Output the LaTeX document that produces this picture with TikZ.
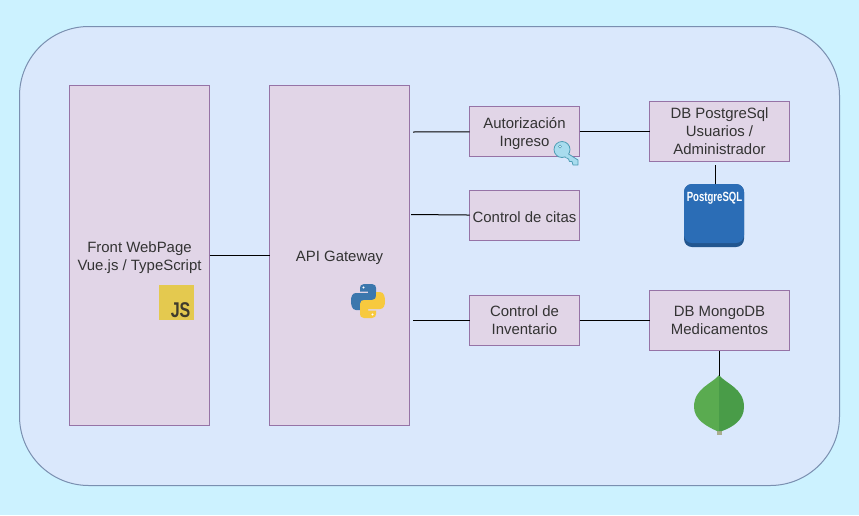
\documentclass[tikz,border=0pt]{standalone}
\usepackage{fontspec}
\setmainfont{Liberation Sans}
\definecolor{pagebg}{HTML}{CCF2FF}
\definecolor{panelfill}{HTML}{DAE8FC}
\definecolor{panelline}{HTML}{7A8FB0}
\definecolor{boxfill}{HTML}{E1D5E7}
\definecolor{boxline}{HTML}{9673A6}
\definecolor{jsfill}{HTML}{E4C94F}
\definecolor{jstext}{HTML}{3F3B2C}
\definecolor{pyblue}{HTML}{3B77AD}
\definecolor{pyyellow}{HTML}{F7C93E}
\definecolor{pgblue}{HTML}{2B6DB6}
\definecolor{pgdark}{HTML}{22568F}
\definecolor{leafleft}{HTML}{5AAB50}
\definecolor{leafright}{HTML}{499C48}
\definecolor{leafstem}{HTML}{A9AD8F}
\definecolor{keyfill}{HTML}{A8DCEE}
\definecolor{keyline}{HTML}{4F9DB5}
\tikzset{
	compbox/.style={draw=boxline,fill=boxfill,line width=0.75pt,outer sep=0pt,inner sep=0pt,align=center,font=\fontsize{11.2}{13.5}\selectfont,text=black!80,execute at begin node={\rule{0pt}{#1}}},
	compbox/.default=11.5pt,
	link/.style={line width=0.75pt,black}
}
\begin{document}
\begin{tikzpicture}[x=0.75pt,y=-0.75pt]
		\useasboundingbox (0,0) rectangle (859,515);
		\fill[pagebg] (0,0) rectangle (859,515);
		\draw[fill=panelfill,draw=panelline,line width=0.75pt,rounded corners=52pt] (19.5,26.5) rectangle (839.5,485.5);
		% main columns
		\node[compbox=24.5pt,minimum width=105pt,minimum height=255pt] (front) at (139.5,255.5) {Front WebPage\\Vue.js / TypeScript};
		\node[compbox,minimum width=105pt,minimum height=255pt] (gateway) at (339.5,255.5) {API Gateway};
		% services
		\node[compbox=24.5pt,minimum width=82.5pt,minimum height=37.5pt] (auth) at (524.5,131.5) {Autorización\\Ingreso};
		\node[compbox=10pt,minimum width=82.5pt,minimum height=37.5pt] (citas) at (524.5,215.5) {Control de citas};
		\node[compbox,minimum width=82.5pt,minimum height=37.5pt] (inventario) at (524.5,320.5) {Control de\\Inventario};
		% databases
		\node[compbox,minimum width=105pt,minimum height=45pt] (pgdb) at (719.5,131.5) {DB PostgreSql\\Usuarios /\\Administrador};
		\node[compbox,minimum width=105pt,minimum height=45pt] (mongodb) at (719.5,320.5) {DB MongoDB\\Medicamentos};
		% icons
		\node[fill=jsfill,minimum size=26.25pt,inner sep=0pt,outer sep=0pt] (jsicon) at (176.5,302.5) {};
		\node[anchor=south east,inner sep=0pt,text=jstext,xscale=0.75,font=\bfseries\fontsize{16}{16}\selectfont] (jstitle) at ([xshift=-2.6pt,yshift=1.4pt]jsicon.south east) {JS};
		\foreach \col/\ang in {pyblue/0,pyyellow/180}{
			\fill[\col,rotate around={\ang:(368,301)}] (364,284) -- (372,284) .. controls (375,284) and (376,286) .. (376,288) -- (376,298) .. controls (376,301) and (374,302) .. (372,302) -- (364,302) .. controls (361,302) and (360,304) .. (360,306) -- (360,310) -- (356,310) .. controls (352,310) and (351,305) .. (351,301) .. controls (351,297) and (352,293) .. (356,293) -- (368,293) -- (368,291.5) -- (360,291.5) -- (360,288) .. controls (360,286) and (361,284) .. (364,284) -- cycle;
		}
		\fill[white] (363.5,287.5) circle(1.2);
		\fill[white] (372.5,314.5) circle(1.2);
		% key
		\draw[keyline,fill=keyfill,line width=0.6pt,line join=round] (567,153) -- (578,160) -- (578,165) -- (573,165) -- (572,161.5) -- (569.5,161.5) -- (568.5,159) -- (565,157) -- cycle;
		\draw[keyline,fill=keyfill,line width=0.6pt] (562,149.5) circle(8);
		\draw[keyline,fill=white,line width=0.5pt] (560,146.5) circle(1.5);
		\fill[keyfill] (564,154.5) -- (568,153) -- (569,157) -- (566,157.5) -- cycle;
		% postgres block
		\node[fill=pgdark,rounded corners=6pt,minimum width=45pt,minimum height=47.25pt,inner sep=0pt,outer sep=0pt] (pgicon) at (714,215.5) {};
		\fill[pgblue,rounded corners=6pt] (684,184) rectangle (744,243);
		\node[inner sep=0pt,text=white,xscale=0.72,font=\bfseries\fontsize{10}{10}\selectfont] (pgtitle) at (714.5,198) {PostgreSQL};
		% leaf
		\fill[leafstem] (717,425) rectangle (722,435);
		\fill[leafleft] (719,375) .. controls (712,384) and (694,388) .. (694,407) .. controls (694,420) and (708,427) .. (717,431) -- (719,431) -- cycle;
		\fill[leafright] (719,375) .. controls (726,384) and (744,388) .. (744,407) .. controls (744,420) and (733,427) .. (722,431) -- (719,431) -- cycle;
		\coordinate (leaftop) at (719.5,376);
		% connectors
		\coordinate (gwa) at (413,132);
		\coordinate (gwb) at (411,214.5);
		\coordinate (gwc) at (413,320.5);
		\coordinate (pgdown) at (715.5,165);
		\draw[link] (front) -- (gateway);
		\draw[link] (gwa) -- (auth);
		\draw[link] (gwb) -- (citas);
		\draw[link] (gwc) -- (inventario);
		\draw[link] (auth) -- (pgdb);
		\draw[link] (inventario) -- (mongodb);
		\draw[link] (pgdown) -- (pgdown |- pgicon.north);
		\draw[link] (mongodb) -- (leaftop);
\end{tikzpicture}
\end{document}
